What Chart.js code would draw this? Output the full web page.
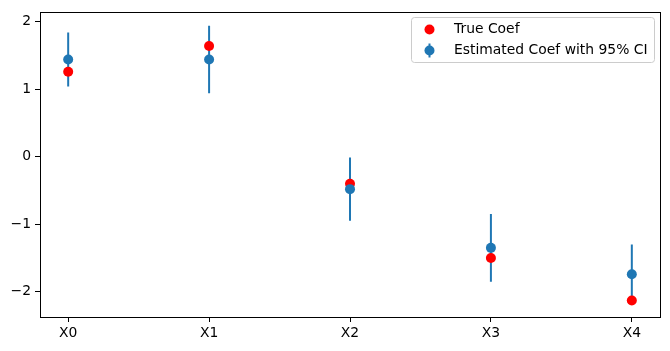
<!DOCTYPE html>
<html>
<head>
<meta charset="utf-8">
<script src="https://cdn.jsdelivr.net/npm/chart.js@4.4.0/dist/chart.umd.min.js"></script>
<style>
html,body{margin:0;padding:0;background:#fff;}
#wrap{width:670px;height:351px;position:relative;}
</style>
</head>
<body>
<div id="wrap"><canvas id="c" width="670" height="351"></canvas></div>
<script>
const categories = ['X0', 'X1', 'X2', 'X3', 'X4'];
const trueCoef = [1.26, 1.64, -0.40, -1.50, -2.13];
const estCoef = [1.44, 1.44, -0.48, -1.35, -1.74];
const ciHalf = [0.40, 0.50, 0.47, 0.50, 0.44];
const yTicks = [-2, -1, 0, 1, 2];
const legendLabels = ['True Coef', 'Estimated Coef with 95% CI'];

const RED = '#ff0000';
const BLUE = '#1f77b4';
const FONT = '"DejaVu Sans", sans-serif';

const truePts = categories.map((c, i) => ({x: i, y: trueCoef[i]}));
const estPts = categories.map((c, i) => ({x: i, y: estCoef[i]}));
const barPts = [];
categories.forEach((c, i) => {
  barPts.push({x: i, y: estCoef[i] - ciHalf[i]});
  barPts.push({x: i, y: estCoef[i] + ciHalf[i]});
  barPts.push({x: i, y: null});
});

const framePlugin = {
  id: 'frame',
  afterDraw(chart) {
    const {ctx, chartArea: a} = chart;
    ctx.save();
    ctx.strokeStyle = '#000';
    ctx.lineWidth = 1;
    ctx.strokeRect(Math.round(a.left) + 0.5, Math.round(a.top) + 0.5,
      Math.round(a.right - a.left), Math.round(a.bottom - a.top));
    // legend
    const bx = 411, by = 17, bw = 243, bh = 45, r = 3;
    ctx.fillStyle = 'rgba(255,255,255,0.8)';
    ctx.strokeStyle = '#cccccc';
    ctx.beginPath();
    ctx.roundRect(bx + 0.5, by + 0.5, bw, bh, r);
    ctx.fill();
    ctx.stroke();
    const mx = 429.5;
    const rows = [29.5, 50.5];
    ctx.fillStyle = RED;
    ctx.beginPath(); ctx.arc(mx, rows[0], 5, 0, Math.PI * 2); ctx.fill();
    ctx.strokeStyle = BLUE; ctx.lineWidth = 2;
    ctx.beginPath(); ctx.moveTo(mx, rows[1] - 7); ctx.lineTo(mx, rows[1] + 7); ctx.stroke();
    ctx.fillStyle = BLUE;
    ctx.beginPath(); ctx.arc(mx, rows[1], 5, 0, Math.PI * 2); ctx.fill();
    ctx.fillStyle = '#000';
    ctx.font = '13.9px ' + FONT;
    ctx.textBaseline = 'middle';
    ctx.textAlign = 'left';
    ctx.fillText(legendLabels[0], 454, rows[0]);
    ctx.fillText(legendLabels[1], 454, rows[1]);
    ctx.restore();
  }
};

new Chart(document.getElementById('c'), {
  type: 'scatter',
  data: {
    datasets: [
      {label: legendLabels[1], data: estPts, backgroundColor: BLUE, borderColor: BLUE,
        pointRadius: 5, pointBorderWidth: 0, pointHoverRadius: 5, order: 0},
      {label: legendLabels[0], data: truePts, backgroundColor: RED, borderColor: RED,
        pointRadius: 5, pointBorderWidth: 0, pointHoverRadius: 5, order: 1},
      {type: 'line', label: 'CI', data: barPts, borderColor: BLUE, borderWidth: 2,
        pointRadius: 0, showLine: true, spanGaps: false, fill: false, order: 2, borderCapStyle: 'butt'}
    ]
  },
  options: {
    responsive: false,
    animation: false,
    events: [],
    layout: {padding: {left: 0, right: 10, top: 9, bottom: 0}},
    plugins: {legend: {display: false}, tooltip: {enabled: false}},
    scales: {
      x: {
        type: 'linear', min: -0.2, max: 4.2,
        afterFit(s) { s.height = 34; },
        afterBuildTicks(s) { s.ticks = categories.map((c, i) => ({value: i})); },
        grid: {display: true, drawOnChartArea: false, drawTicks: true, tickLength: 5, color: '#000', lineWidth: 1},
        border: {display: false},
        ticks: {callback: (v) => categories[v], color: '#000', font: {family: FONT, size: 13.9}, padding: 3, maxRotation: 0}
      },
      y: {
        type: 'linear', min: -2.374, max: 2.139,
        afterFit(s) { s.width = 40; },
        afterBuildTicks(s) { s.ticks = yTicks.map(v => ({value: v})); },
        grid: {display: true, drawOnChartArea: false, drawTicks: true, tickLength: 5, color: '#000', lineWidth: 1},
        border: {display: false},
        ticks: {callback: (v) => (v < 0 ? '\u2212' + Math.abs(v) : String(v)), color: '#000', font: {family: FONT, size: 13.9}, padding: 4}
      }
    }
  },
  plugins: [framePlugin]
});
</script>
</body>
</html>
